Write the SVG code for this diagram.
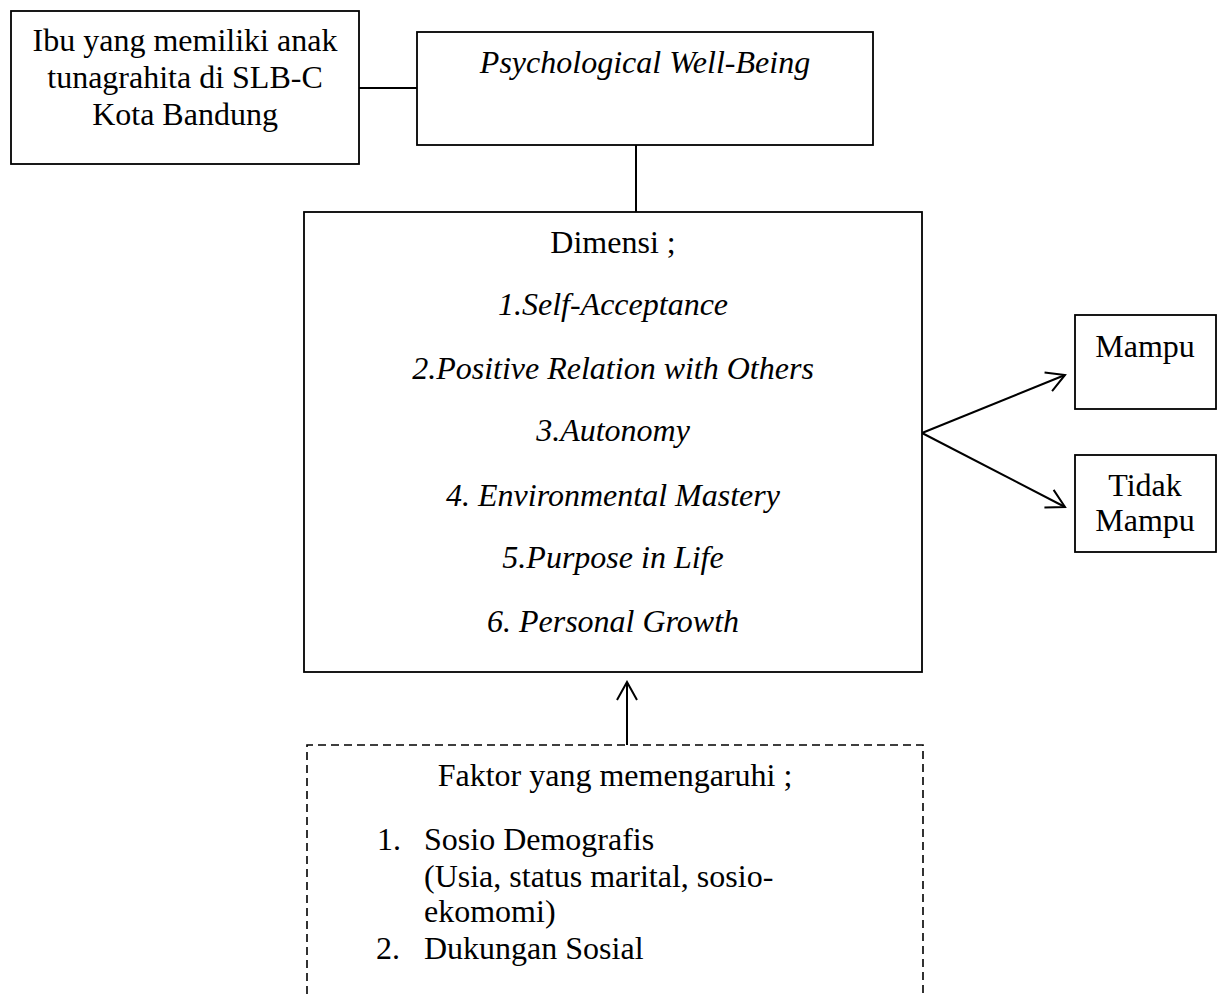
<svg xmlns="http://www.w3.org/2000/svg" width="1218" height="994" viewBox="0 0 1218 994">
  <defs>
    <style>
      .box { fill: #fff; stroke: #000; stroke-width: 1.8; }
      .dash { fill: none; stroke: #000; stroke-width: 1.6; stroke-dasharray: 8 5; }
      .line { fill: none; stroke: #000; stroke-width: 2; }
      .t { font-family: "Liberation Serif", "Times New Roman", serif; font-size: 32px; fill: #000; }
      .c { text-anchor: middle; }
      .i { font-style: italic; }
    </style>
    <marker id="open" viewBox="-22 -12 24 24" markerUnits="userSpaceOnUse" markerWidth="24" markerHeight="24" refX="0" refY="0" orient="auto">
      <path d="M-18,-10 L0,0 L-18,10" fill="none" stroke="#000" stroke-width="2"/>
    </marker>
  </defs>
  <rect width="1218" height="994" fill="#fff"/>

  <g id="connectors">
    <line class="line" x1="359" y1="88" x2="417" y2="88"/>
    <line class="line" x1="636" y1="145" x2="636" y2="212"/>
    <line class="line" x1="922" y1="433" x2="1065" y2="375" marker-end="url(#open)"/>
    <line class="line" x1="922" y1="433" x2="1065" y2="507" marker-end="url(#open)"/>
    <line class="line" x1="627" y1="745" x2="627" y2="682" marker-end="url(#open)"/>
  </g>

  <g id="node-ibu">
    <rect class="box" x="11" y="11" width="348" height="153"/>
    <text class="t c" x="185" y="51">Ibu yang memiliki anak</text>
    <text class="t c" x="185" y="88">tunagrahita di SLB-C</text>
    <text class="t c" x="185" y="125">Kota Bandung</text>
  </g>

  <g id="node-pwb">
    <rect class="box" x="417" y="32" width="456" height="113"/>
    <text class="t c i" x="645" y="73">Psychological Well-Being</text>
  </g>

  <g id="node-dimensi">
    <rect class="box" x="304" y="212" width="618" height="460"/>
    <text class="t c" x="613" y="253">Dimensi ;</text>
    <text class="t c i" x="613" y="315">1.Self-Acceptance</text>
    <text class="t c i" x="613" y="379">2.Positive Relation with Others</text>
    <text class="t c i" x="613" y="441">3.Autonomy</text>
    <text class="t c i" x="613" y="506">4. Environmental Mastery</text>
    <text class="t c i" x="613" y="568">5.Purpose in Life</text>
    <text class="t c i" x="613" y="632">6. Personal Growth</text>
  </g>

  <g id="node-mampu">
    <rect class="box" x="1075" y="315" width="141" height="94"/>
    <text class="t c" x="1145" y="357">Mampu</text>
  </g>

  <g id="node-tidak-mampu">
    <rect class="box" x="1075" y="455" width="141" height="97"/>
    <text class="t c" x="1145" y="496">Tidak</text>
    <text class="t c" x="1145" y="531">Mampu</text>
  </g>

  <g id="node-faktor">
    <path class="dash" d="M307,994 L307,745 L923,745 L923,994"/>
    <text class="t c" x="615" y="786">Faktor yang memengaruhi ;</text>
    <text class="t" x="377" y="850">1.</text>
    <text class="t" x="424" y="850">Sosio Demografis</text>
    <text class="t" x="424" y="887">(Usia, status marital, sosio-</text>
    <text class="t" x="424" y="922">ekomomi)</text>
    <text class="t" x="376" y="959">2.</text>
    <text class="t" x="424" y="959">Dukungan Sosial</text>
  </g>
</svg>
